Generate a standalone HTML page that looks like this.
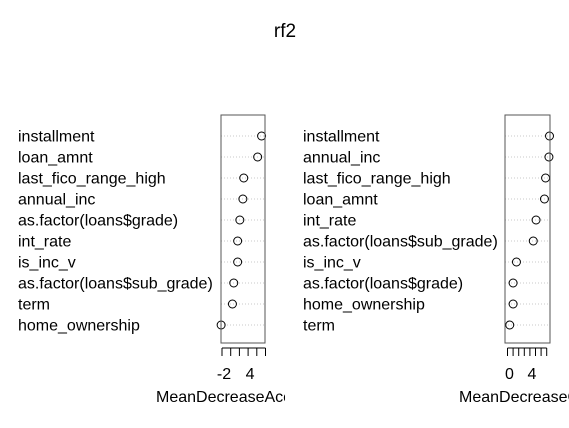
<!DOCTYPE html>
<html><head><meta charset="utf-8"><style>
body{margin:0;background:#fff;}
svg text{font-family:"Liberation Sans",Arial,sans-serif;}
</style></head><body>
<svg id="chart" width="569" height="423" xmlns="http://www.w3.org/2000/svg">
<defs>
<clipPath id="clipL"><rect x="0" y="0" width="285" height="423"/></clipPath>
<clipPath id="clipR"><rect x="285" y="0" width="284" height="423"/></clipPath>
</defs>
<rect width="569" height="423" fill="#fff"/>
<text x="285" y="37" font-size="19" text-anchor="middle">rf2</text>
</svg>
<script>
const accLabels=["installment","loan_amnt","last_fico_range_high","annual_inc","as.factor(loans$grade)","int_rate","is_inc_v","as.factor(loans$sub_grade)","term","home_ownership"];
const accValues=[7.1,6.2,3.0,2.8,2.1,1.6,1.6,0.7,0.4,-2.2];
const accTicks=[-2,0,2,4,6,8];
const accTickLabels=["-2","","","4","",""];
const giniLabels=["installment","annual_inc","last_fico_range_high","loan_amnt","int_rate","as.factor(loans$sub_grade)","is_inc_v","as.factor(loans$grade)","home_ownership","term"];
const giniValues=[7.5,7.4,6.8,6.6,5.1,4.6,1.6,1.0,1.0,0.4];
const giniTicks=[0,1,2,3,4,5,6,7];
const giniTickLabels=["0","","","","4","","",""];

const NS="http://www.w3.org/2000/svg";
const svg=document.getElementById('chart');
function mk(tag,attrs,parent){const e=document.createElementNS(NS,tag);for(const k in attrs)e.setAttribute(k,attrs[k]);(parent||svg).appendChild(e);return e;}

function panel(name,labels,values,ticks,tickLabels,cfg){
  const g=mk('g',{'clip-path':cfg.clip});
  
  
  const x=v=>cfg.x0+(v-cfg.v0)*cfg.pxu;
  const y=i=>136+i*21;
  labels.forEach((l,i)=>{
    const t=mk('text',{x:cfg.labelX,y:y(i)+5.5,'font-size':16},g);
    t.textContent=l;
    
    
    const ln=mk('line',{x1:cfg.bx0,x2:cfg.bx1,y1:y(i),y2:y(i),stroke:'#c8c8c8','stroke-dasharray':'1,2','stroke-width':1},g);
    
    
  });
  values.forEach((v,i)=>{
    const c=mk('circle',{cx:x(v),cy:y(i),r:4,fill:'none',stroke:'#000','stroke-width':1},g);
    
    
  });
  const b=mk('rect',{x:cfg.bx0,y:115,width:cfg.bx1-cfg.bx0,height:228,fill:'none',stroke:'#555','stroke-width':1},g);
  
  
  ticks.forEach((t,i)=>{
    const tl=mk('line',{x1:x(t),x2:x(t),y1:348,y2:356,stroke:'#000','stroke-width':1},g);
    
    
    if(tickLabels[i]){
      const tt=mk('text',{x:x(t)+2,y:379,'font-size':16,'text-anchor':'middle'},g);
      tt.textContent=tickLabels[i];
      
      
    }
  });
  const al=mk('line',{x1:x(ticks[0]),x2:x(ticks[ticks.length-1]),y1:348,y2:348,stroke:'#000','stroke-width':1},g);
  
  
  const ti=mk('text',{x:cfg.titleX,y:402,'font-size':16},g);
  ti.textContent=cfg.title;
  
  
}
panel('accuracy',accLabels,accValues,accTicks,accTickLabels,{clip:'url(#clipL)',x0:222,v0:-2,pxu:4.35,labelX:18,bx0:221,bx1:265,titleX:156,title:'MeanDecreaseAccuracy'});
panel('gini',giniLabels,giniValues,giniTicks,giniTickLabels,{clip:'url(#clipR)',x0:507.5,v0:0,pxu:5.6,labelX:303,bx0:505,bx1:550,titleX:459,title:'MeanDecreaseGini'});
</script>
</body></html>
